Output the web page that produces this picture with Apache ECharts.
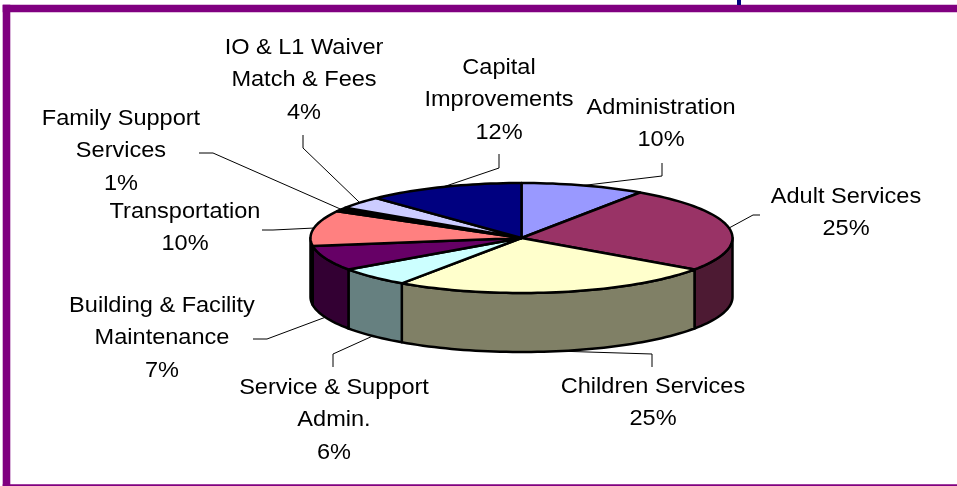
<!DOCTYPE html>
<html><head><meta charset="utf-8">
<style>html,body{margin:0;padding:0;background:#fff}#c{width:957px;height:486px}</style>
<script src="https://cdn.jsdelivr.net/npm/echarts@6/dist/echarts.min.js"></script>
</head><body><div id="c"></div>
<script>
const categories = ['Administration','Adult Services','Children Services','Service & Support\nAdmin.','Building & Facility\nMaintenance','Transportation','Family Support\nServices','IO & L1 Waiver\nMatch & Fees','Capital\nImprovements'];
const values = [9.5,25.2,24.9,5.7,7.4,10.4,1.2,3.6,12.1];
const topColors = ['#9999FF','#993366','#FFFFCC','#CCFFFF','#660066','#FF8080','#000000','#CCCCFF','#000080'];
const sideColors = ['#4D4D80','#4D1A33','#808066','#668080','#330033','#330033','#000000','#666680','#000040'];

// layout (not data): pie projection in pixels, label centres and leader bends
const CX=521.5, CY=238, RX=211, RY=55, DEPTH=59, W=957, H=486;
const labelPos = [[661,124],[846,213],[653,403],[334,420],[162,338],[185,228],[121,151],[304,80],[499,100]];
const leaders = [
 [[662,176],[662,163]],
 [[753,215],[760,215]],
 [[652,354],[652,367]],
 [[333,354],[333,367]],
 [[267,339],[253,339]],
 [[273,230],[262,230]],
 [[213,153],[199,153]],
 [[303,148],[303,135]],
 [[499,168],[499,154]]
];
const sideLeader = [false,false,true,true,true,false,false,false,false];

const total = values.reduce((a,b)=>a+b,0);
let acc = 0;
const slices = values.map((v,i)=>{const s=acc/total*2*Math.PI; acc+=v; return [i,s,acc/total*2*Math.PI];});

const pt = (api,t,drop)=>api.coord([Math.sin(t), Math.cos(t)-(drop?DEPTH/RY:0)]);
function arc(api,a,b,drop){
  const n=Math.max(2,Math.ceil((b-a)/0.03)), out=[];
  for(let k=0;k<=n;k++) out.push(pt(api,a+(b-a)*k/n,drop));
  return out;
}
function wall(p,api){
  const i=api.value(0), a=Math.max(api.value(1),Math.PI/2), b=Math.min(api.value(2),Math.PI*1.5);
  if(b<=a) return {type:'group',children:[]};
  const pts=arc(api,a,b,false).concat(arc(api,a,b,true).reverse());
  return {type:'polygon',shape:{points:pts},style:{fill:sideColors[i],stroke:'#000',lineWidth:2.5,lineJoin:'round'}};
}
function face(p,api){
  const i=api.value(0), a=api.value(1), b=api.value(2);
  const pts=[api.coord([0,0])].concat(arc(api,a,b,false));
  return {type:'polygon',shape:{points:pts},style:{fill:topColors[i],stroke:'#000',lineWidth:2.5,lineJoin:'round'}};
}
function label(p,api){
  const i=api.value(0), m=(api.value(1)+api.value(2))/2;
  const start=pt(api,m,sideLeader[i]);
  const txt=categories[i]+'\n'+Math.round(values[i]/total*100)+'%';
  return {type:'group',children:[
    {type:'polyline',shape:{points:[start].concat(leaders[i])},style:{fill:null,stroke:'#000',lineWidth:1}},
    {type:'text',x:labelPos[i][0],y:labelPos[i][1],scaleX:1.07,style:{text:txt,x:0,y:0,align:'center',verticalAlign:'middle',fontFamily:'"Liberation Sans"',fontSize:22,lineHeight:32.5,fill:'#000'}}
  ]};
}
const hidden={show:false};
const base=(fn,z)=>({type:'custom',coordinateSystem:'cartesian2d',data:slices,renderItem:fn,z:z,silent:true,animation:false,clip:false,encode:{x:1,y:2}});
const chart=echarts.init(document.getElementById('c'),null,{renderer:'canvas'});
chart.setOption({
  animation:false,backgroundColor:'#fff',
  grid:{left:0,right:0,top:0,bottom:0,containLabel:false},
  xAxis:{type:'value',min:-CX/RX,max:(W-CX)/RX,axisLine:hidden,axisTick:hidden,axisLabel:hidden,splitLine:hidden},
  yAxis:{type:'value',min:-(H-CY)/RY,max:CY/RY,axisLine:hidden,axisTick:hidden,axisLabel:hidden,splitLine:hidden},
  graphic:[
    {type:'rect',shape:{x:2.7,y:4.7,width:954.3,height:7.6},style:{fill:'#800080'},z:10},
    {type:'rect',shape:{x:2.7,y:4.7,width:7.6,height:481.3},style:{fill:'#800080'},z:10},
    {type:'rect',shape:{x:2.7,y:484.2,width:954.3,height:1.8},style:{fill:'#800080'},z:10},
    {type:'rect',shape:{x:737,y:0,width:4,height:5},style:{fill:'#000080'},z:10}
  ],
  series:[base(wall,2),base(face,3),base(label,4)]
});
</script></body></html>
